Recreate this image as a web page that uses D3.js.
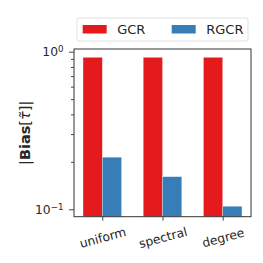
<!DOCTYPE html>
<html>
<head>
<meta charset="utf-8">
<script src="https://cdn.jsdelivr.net/npm/d3@7"></script>
<style>
  body { margin: 0; background: #fff; }
  text { font-family: "DejaVu Sans", sans-serif; fill: #262626; }
</style>
</head>
<body>
<div id="chart"></div>
<script>
// data
var categories = ['uniform', 'spectral', 'degree'];
var seriesNames = ['GCR', 'RGCR'];
var gcrValues = [0.921, 0.921, 0.921];
var rgcrValues = [0.214, 0.161, 0.1045];
var yTickValues = [0.1, 1];
var yTickLabels = ['−1', '0'];

var colors = { GCR: '#e41a1c', RGCR: '#377eb8' };

var W = 263, H = 263;
var margin = { left: 74, right: 12, top: 49, bottom: 46.3 };

var svg = d3.select('#chart').append('svg')
	.attr('width', W).attr('height', H);

var x = d3.scaleLinear().domain([-0.47, 2.47]).range([margin.left, W - margin.right]);
var y = d3.scaleLog().domain([0.0897, 1.04]).range([H - margin.bottom, margin.top]);

var barW = x(0.32) - x(0);

var rows = [];
categories.forEach(function(c, i) {
	rows.push({ cat: c, i: i, key: 'GCR', v: gcrValues[i], off: -1 });
	rows.push({ cat: c, i: i, key: 'RGCR', v: rgcrValues[i], off: 0 });
});

var g = svg.append('g');

g.selectAll('rect.bar').data(rows).enter().append('rect')
	.attr('class', 'bar')
	.attr('x', function(d) { return x(d.i) + d.off * barW; })
	.attr('width', barW)
	.attr('y', function(d) { return y(d.v); })
	.attr('height', function(d) { return y.range()[0] - y(d.v); })
	.attr('fill', function(d) { return colors[d.key]; })
	.attr('stroke', '#fff')
	.attr('stroke-opacity', 0.5)
	.attr('stroke-width', 0.6);

// y axis with log minor ticks
var minor = [];
for (var k = 2; k <= 9; k++) { minor.push(k / 10); }

var yAxisMajor = d3.axisLeft(y).tickValues(yTickValues).tickSize(5).tickPadding(4).tickFormat('');
var yAxisMinor = d3.axisLeft(y).tickValues(minor).tickSize(3).tickFormat('');

var ga = g.append('g').attr('transform', 'translate(' + margin.left + ',0)');
ga.call(yAxisMajor);
var gm = g.append('g').attr('transform', 'translate(' + margin.left + ',0)');
gm.call(yAxisMinor);
[ga, gm].forEach(function(a) {
	a.select('.domain').remove();
	a.selectAll('line').attr('stroke', '#333').attr('stroke-width', 0.9);
});

// major tick labels as 10^n
ga.selectAll('.tick').each(function(d, i) {
	var t = d3.select(this).append('text')
		.attr('x', -10.5).attr('dy', '0.32em')
		.attr('text-anchor', 'end')
		.style('font-size', '12.3px');
	t.append('tspan').text('10');
	t.append('tspan').attr('dy', '-0.45em').style('font-size', '8.7px').text(yTickLabels[i]);
});

// x axis
var xAxis = d3.axisBottom(x).tickValues([0, 1, 2]).tickSize(4).tickFormat('');
var gx = g.append('g').attr('transform', 'translate(0,' + y.range()[0] + ')').call(xAxis);
gx.select('.domain').remove();
gx.selectAll('line').attr('stroke', '#333').attr('stroke-width', 0.9);
gx.selectAll('.tick').append('text')
	.attr('transform', 'translate(0,21) rotate(-15)')
	.attr('text-anchor', 'middle')
	.attr('dy', '0.35em')
	.style('font-size', '12.3px')
	.text(function(d) { return categories[d]; });

// frame
g.append('rect')
	.attr('x', margin.left).attr('y', margin.top)
	.attr('width', W - margin.right - margin.left)
	.attr('height', H - margin.bottom - margin.top)
	.attr('fill', 'none').attr('stroke', '#333').attr('stroke-width', 1);

// y label
var yl = svg.append('text')
	.attr('transform', 'translate(29.5,' + ((margin.top + H - margin.bottom) / 2) + ') rotate(-90)')
	.attr('text-anchor', 'middle')
	.style('font-size', '14.5px');
yl.append('tspan').text('|');
yl.append('tspan').style('font-weight', 'bold').text('Bias');
yl.append('tspan').text('[');
yl.append('tspan').style('font-style', 'italic').text('τ\u0303');
yl.append('tspan').text(']|');

// legend
var lg = svg.append('g').attr('transform', 'translate(77,18)');
lg.append('rect')
	.attr('width', 171).attr('height', 23).attr('rx', 2)
	.attr('fill', '#fff').attr('fill-opacity', 0.8)
	.attr('stroke', '#d9d9d9').attr('stroke-width', 0.8);
var li = lg.selectAll('g.item').data(seriesNames).enter().append('g')
	.attr('class', 'item')
	.attr('transform', function(d, i) { return 'translate(' + (5.7 + i * 89) + ',0)'; });
li.append('rect')
	.attr('y', 7).attr('width', 24).attr('height', 8.5)
	.attr('fill', function(d) { return colors[d]; });
li.append('text')
	.attr('x', 34.5).attr('y', 11.5).attr('dy', '0.35em')
	.style('font-size', '13px')
	.text(function(d) { return d; });
</script>
</body>
</html>
